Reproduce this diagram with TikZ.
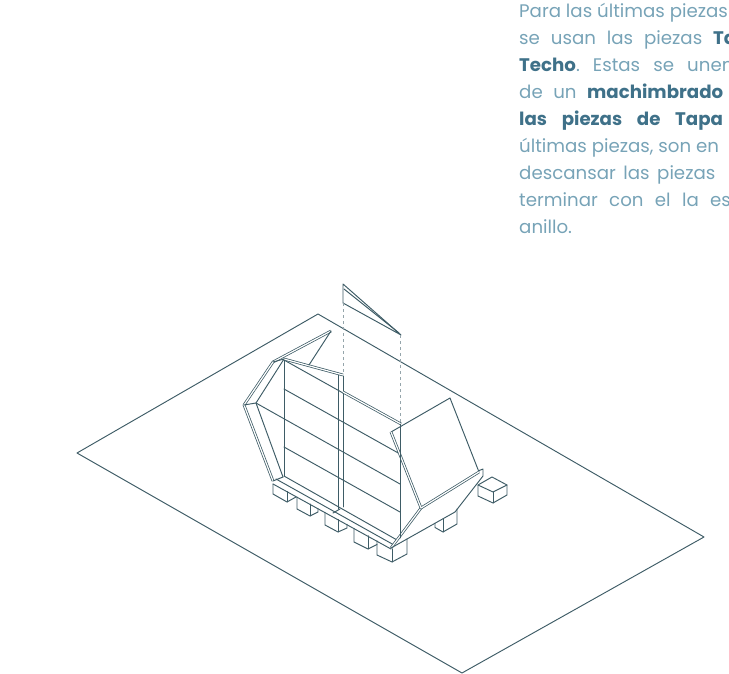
\documentclass[tikz,border=0pt]{standalone}
\usepackage{fontspec}
\setmainfont{Poppins}
\definecolor{ink}{HTML}{3E5C66}
\definecolor{txt}{HTML}{77A3B7}
\definecolor{txtb}{HTML}{3F7189}
\begin{document}
\begin{tikzpicture}[x=1pt,y=-1pt,
  ln/.style={draw=ink, line width=0.95pt, line join=round, line cap=round},
  dbl/.style={draw=ink, line width=0.75pt, double=white, double distance=1.2pt, line join=round},
  hid/.style={draw=ink!55, line width=0.7pt, dash pattern=on 3pt off 3pt},
  wd/.style={anchor=base west, inner sep=0pt, text=txt, font=\fontsize{18.2}{18.2}\selectfont},
  bw/.style={wd, text=txtb, font=\fontsize{18.2}{18.2}\selectfont\bfseries}]
\useasboundingbox (0,0) rectangle (729,674);

% ---- justified text block; each line runs on past the right edge ----
\node[wd] (l1) at (519,17.5) {Para las últimas piezas};
\node[wd] (l2) at (519,44.5) {\hbox to 194pt{se\hfil usan\hfil las\hfil piezas\hfil}};
\node[bw] (l2b) at (713,44.5) {Tapa};
\node[wd] (l3) at (519,71.5) {\hbox to 168pt{\textcolor{txtb}{\bfseries Techo}.\hfil Estas\hfil se\hfil}};
\node[wd] (l3b) at (687,71.5) {unen};
\node[wd] (l4) at (519,98.5) {\hbox to 68pt{de\hfil un\hfil}};
\node[bw] (l4b) at (587,98.5) {machimbrado};
\node[bw] (l5) at (519,125.5) {\hbox to 156pt{las\hfil piezas\hfil de\hfil}};
\node[bw] (l5b) at (675,125.5) {Tapa};
\node[wd] (l6) at (519,152.5) {últimas piezas, son en};
\node[wd] (l7) at (519,179.5) {\hbox to 138pt{descansar\hfil las\hfil}};
\node[wd] (l7b) at (657,179.5) {piezas};
\node[wd] (l8) at (519,206.5) {\hbox to 191pt{terminar\hfil con\hfil el\hfil la\hfil}};
\node[wd] (l8b) at (710,206.5) {es};
\node[wd] (l9) at (519,233.5) {anillo.};

% ---- ground plane ----
\draw[ln] (77,453) -- (318,314) -- (704,537) -- (462,673) -- cycle;

% ---- floating roof triangle and its guide lines ----
\draw[ln] (343,284) -- (343,303) -- (401,335) -- cycle;
\draw[ln] (344,289) -- (399,333);
\draw[hid] (343,303) -- (343,375);
\draw[hid] (400,335) -- (400,422);

% ---- long wall: boards ----
\draw[ln] (284,360) -- (343,393);
\draw[ln] (284,389) -- (400,454);
\draw[ln] (256,403) -- (400,484);
\draw[ln] (284,447) -- (400,512);
\draw[ln] (284,476) -- (397,540);
\draw[ln] (284,360) -- (284,476);
\draw[ln] (338,374) -- (338,509);
\draw[ln] (343,376) -- (343,507);
\draw[dbl] (284,359) -- (343,375);
\draw[dbl] (343,392) -- (401,424);

% ---- near end: chamfered profile ----
\draw[dbl] (331,331) -- (273,362) -- (244,405) -- (273,481);
\draw[ln] (284,359) -- (256,403) -- (283,477);
\draw[ln] (244,405) -- (256,403);
\draw[ln] (273,362) -- (284,359);
\draw[ln] (331,331) -- (309,365);

% ---- base rail ----
\draw[ln] (273,481) -- (283,477);
\draw[ln] (273,484) -- (391,549);
\draw[ln] (276,479) -- (394,545);
\draw[ln] (333,513) -- (340,509);

% ---- far end ----
\draw[dbl] (391,548) -- (421,508);
\draw[ln] (391,548) -- (455,512) -- (483,476) -- (483,469) -- (478,471);
\filldraw[ln, fill=white] (391,432) -- (450,398) -- (479,472) -- (421,508) -- cycle;
\draw[dbl] (391,432) -- (421,508) -- (479,472);
\draw[ln] (400,424) -- (400,538);

% ---- foundation blocks ----
\draw[ln] (273,484) -- (273,494) -- (287,502) -- (296,497);
\draw[ln] (287,491.7) -- (287,502);
\draw[ln] (297,497.1) -- (297,509) -- (310,516) -- (318,512) -- (318,508.6);
\draw[ln] (310,504.2) -- (310,516);
\draw[ln] (325,512.4) -- (325,525) -- (338,532) -- (347,528) -- (347,524.4);
\draw[ln] (338,519.5) -- (338,532);
\draw[ln] (354,528.3) -- (354,542) -- (368,549) -- (377,544.5);
\draw[ln] (368,535.9) -- (368,549);
\draw[ln] (377,540.8) -- (377,555) -- (392,562) -- (407,554) -- (407,539);
\draw[ln] (392,549) -- (392,562);
\draw[ln] (435,523.3) -- (435,527.5) -- (443,532) -- (457,524) -- (457,509.2);
\draw[ln] (443,518.8) -- (443,532);

% ---- loose block ----
\draw[ln] (478,485) -- (492,477) -- (507,485) -- (493,492) -- cycle;
\draw[ln] (478,485) -- (478,496) -- (493,503) -- (507,495) -- (507,485);
\draw[ln] (493,492) -- (493,503);
\end{tikzpicture}
\end{document}
